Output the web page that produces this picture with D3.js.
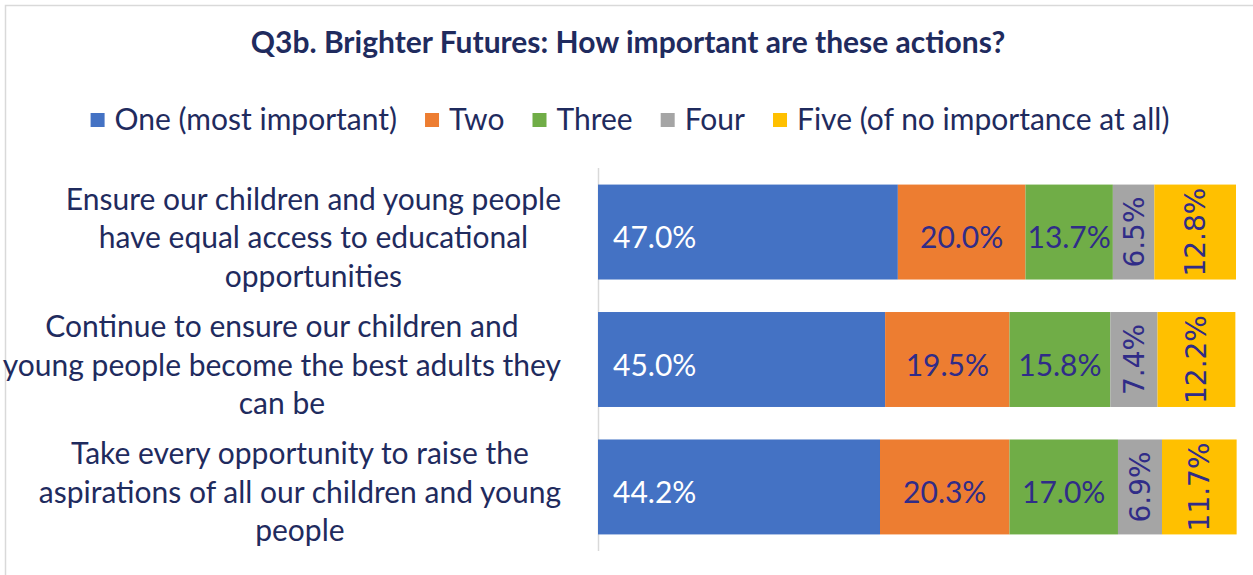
<!DOCTYPE html>
<html>
<head>
<meta charset="utf-8">
<script src="https://cdn.jsdelivr.net/npm/d3@7"></script>
<style>
  body { margin: 0; background: #fff; }
  svg { display: block; }
</style>
</head>
<body>
<script>
// data
var title = 'Q3b. Brighter Futures: How important are these actions?';
var series = ['One (most important)', 'Two', 'Three', 'Four', 'Five (of no importance at all)'];
var colors = ['#4472C4', '#ED7D31', '#70AD47', '#A5A5A5', '#FFC000'];
var categories = [
	['Ensure our children and young people', 'have equal access to educational', 'opportunities'],
	['Continue to ensure our children and', 'young people become the best adults they', 'can be'],
	['Take every opportunity to raise the', 'aspirations of all our children and young', 'people']
];
var valuesOne = [47.0, 45.0, 44.2];
var valuesTwo = [20.0, 19.5, 20.3];
var valuesThree = [13.7, 15.8, 17.0];
var valuesFour = [6.5, 7.4, 6.9];
var valuesFive = [12.8, 12.2, 11.7];

var W = 1253, H = 575;
var navy = '#1F2B5E';
var labelNavy = '#302C88';

var svg = d3.select('body').append('svg')
	.attr('width', W)
	.attr('height', H);

// outer frame
svg.append('rect')
	.attr('x', 5.5).attr('y', 5.5)
	.attr('width', W + 20).attr('height', H + 20)
	.attr('fill', '#fff')
	.attr('stroke', '#D9D9D9')
	.attr('stroke-width', 1.5);

// title
svg.append('text')
	.attr('x', 628).attr('y', 53)
	.attr('text-anchor', 'middle')
	.style('font-family', 'Lato')
	.style('font-weight', 'bold')
	.style('font-size', '30px')
	.style('fill', navy)
	.text(title);

// legend
var legend = svg.append('g').attr('class', 'legend');
var lx = 0;
series.forEach(function(s, i) {
	var g = legend.append('g').attr('transform', 'translate(' + lx + ',0)');
	g.append('rect')
		.attr('x', 0).attr('y', -7)
		.attr('width', 14).attr('height', 14)
		.attr('fill', colors[i]);
	var t = g.append('text')
		.attr('x', 24).attr('y', 10)
		.style('font-family', 'Lato')
		.style('font-size', '30px')
		.style('fill', navy)
		.text(s);
	lx += 24 + t.node().getComputedTextLength() + 28;
});
lx -= 28;
legend.attr('transform', 'translate(' + (630 - lx / 2) + ',120)');

// rows
var rows = categories.map(function(c, i) {
	return {
		lines: c,
		vals: [valuesOne[i], valuesTwo[i], valuesThree[i], valuesFour[i], valuesFive[i]]
	};
});

var x = d3.scaleLinear().domain([0, 100]).range([598, 1236]);
var y = d3.scaleBand()
	.domain(d3.range(rows.length))
	.range([168, 551])
	.paddingInner(0.255)
	.paddingOuter(0.13);

// axis line
svg.append('line')
	.attr('x1', 598.5).attr('x2', 598.5)
	.attr('y1', 168).attr('y2', 551)
	.attr('stroke', '#D9D9D9')
	.attr('stroke-width', 1.5);

rows.forEach(function(r, i) {
	var cum = 0;
	var g = svg.append('g');
	var cy = y(i) + y.bandwidth() / 2;
	r.vals.forEach(function(v, k) {
		var x0 = x(cum), x1 = x(cum + v);
		cum += v;
		g.append('rect')
			.attr('x', x0).attr('y', y(i))
			.attr('width', x1 - x0).attr('height', y.bandwidth())
			.attr('fill', colors[k]);
		var lbl = v.toFixed(1) + '%';
		if (k === 0) {
			g.append('text')
				.attr('x', x0 + 15).attr('y', cy + 16)
				.style('font-family', 'Lato')
				.style('font-size', '30px')
				.style('fill', '#fff')
				.text(lbl);
		} else if (k < 3) {
			g.append('text')
				.attr('x', (x0 + x1) / 2).attr('y', cy + 16)
				.attr('text-anchor', 'middle')
				.style('font-family', 'Lato')
				.style('font-size', '30px')
				.style('fill', labelNavy)
				.text(lbl);
		} else {
			g.append('text')
				.attr('transform', 'translate(' + ((x0 + x1) / 2 + 10) + ',' + cy + ') rotate(-90)')
				.attr('text-anchor', 'middle')
				.style('font-family', 'DejaVu Sans')
				.style('font-size', '28px')
				.style('fill', labelNavy)
				.text(lbl);
		}
	});

	// category label: longest line ends near the axis, others centred on it
	var t = svg.append('text')
		.attr('text-anchor', 'middle')
		.style('font-family', 'Lato')
		.style('font-size', '30px')
		.style('fill', navy);
	var spans = r.lines.map(function(line, j) {
		return t.append('tspan')
			.attr('y', cy + 6 + (j - 1) * 38.5 + 10)
			.text(line);
	});
	var maxW = d3.max(spans, function(s) { return s.node().getComputedTextLength(); });
	var cx = 561 - maxW / 2;
	spans.forEach(function(s) { s.attr('x', cx); });
});
</script>
</body>
</html>
